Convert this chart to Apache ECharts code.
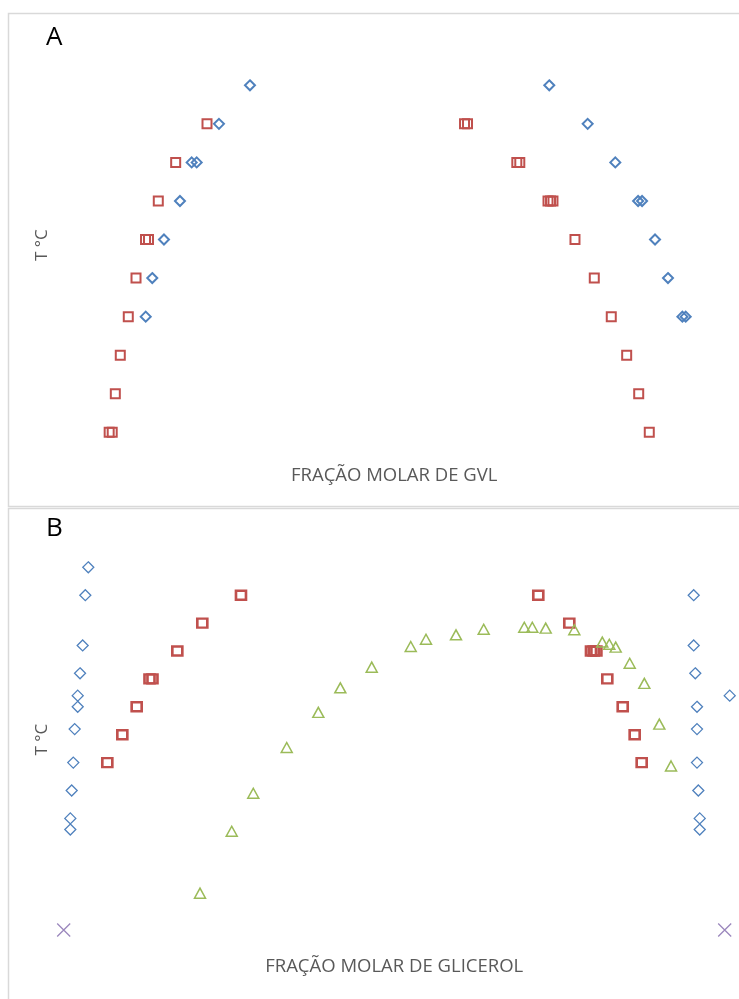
<!DOCTYPE html>
<html>
<head>
<meta charset="utf-8">
<script src="https://cdn.jsdelivr.net/npm/echarts@6/dist/echarts.min.js"></script>
<style>
  html, body { margin: 0; padding: 0; background: #ffffff; }
  #chart { width: 739px; height: 999px; }
</style>
</head>
<body>
<div id="chart"></div>
<script>
// Painel A: temperatura (°C) em função da fração molar de GVL
const gvlDiamantes = [
  [0.2818, 65], [0.2349, 60], [0.1936, 55], [0.2012, 55], [0.1759, 50],
  [0.1517, 45], [0.1340, 40], [0.1241, 35],
  [0.7346, 65], [0.7927, 60], [0.8345, 55], [0.8690, 50], [0.8750, 50],
  [0.8946, 45], [0.9142, 40], [0.9360, 35], [0.9410, 35]
];
const gvlQuadrados = [
  [0.2168, 60], [0.1694, 55], [0.1431, 50], [0.1238, 45], [0.1283, 45],
  [0.1094, 40], [0.0977, 35], [0.0856, 30], [0.0781, 25], [0.0688, 20], [0.0734, 20],
  [0.6064, 60], [0.6109, 60], [0.6855, 55], [0.6900, 55], [0.7327, 50],
  [0.7365, 50], [0.7402, 50], [0.7735, 45], [0.8027, 40], [0.8284, 35],
  [0.8517, 30], [0.8699, 25], [0.8859, 20]
];

// Painel B: temperatura (°C) em função da fração molar de glicerol
const gliDiamantes = [
  [0.0372, 65], [0.0327, 60], [0.0287, 51], [0.0247, 46], [0.0212, 42],
  [0.0212, 40], [0.0166, 36], [0.0145, 30], [0.0121, 25], [0.0100, 20], [0.0100, 18],
  [0.9531, 60], [0.9531, 51], [0.9555, 46], [1.0076, 42], [0.9581, 40],
  [0.9581, 36], [0.9581, 30], [0.9601, 25], [0.9622, 20], [0.9622, 18]
];
const gliQuadrados = [
  [0.2682, 60], [0.2097, 55], [0.1719, 50], [0.1298, 45], [0.1343, 45],
  [0.1104, 40], [0.0887, 35], [0.0660, 30],
  [0.7180, 60], [0.7649, 55], [0.7977, 50], [0.8018, 50], [0.8059, 50],
  [0.8224, 45], [0.8457, 40], [0.8638, 35], [0.8744, 30]
];
const gliTriangulos = [
  [0.2062, 6.6], [0.2542, 17.7], [0.2868, 24.5], [0.3374, 32.7], [0.3852, 39.0],
  [0.4185, 43.4], [0.4660, 47.1], [0.5250, 50.8], [0.5481, 52.1], [0.5935, 52.9],
  [0.6354, 53.9], [0.6968, 54.25], [0.7089, 54.25], [0.7292, 54.1], [0.7725, 53.8],
  [0.8148, 51.6], [0.8254, 51.2], [0.8351, 50.7], [0.8563, 47.8], [0.8784, 44.2],
  [0.9011, 36.9], [0.9188, 29.4]
];
const gliCruzes = [[0, 0], [1, 0]];

// Rótulos
const rotuloPainelA = 'A';
const rotuloPainelB = 'B';
const tituloXA = 'FRAÇÃO MOLAR DE GVL';
const tituloXB = 'FRAÇÃO MOLAR DE GLICEROL';
const tituloY = 'T °C';

const AZUL = '#4f81bd', VERMELHO = '#c0504d', VERDE = '#9bbb59', ROXO = '#9b87bd';
const CINZA_TEXTO = '#595959';
const FONTE = '"Open Sans", "Noto Sans", sans-serif';

const chart = echarts.init(document.getElementById('chart'), null, { renderer: 'canvas' });

function eixoX(grid, nome, gap) {
  return {
    gridIndex: grid, type: 'value', min: 0, max: 1,
    axisLine: { show: false }, axisTick: { show: false },
    axisLabel: { show: false }, splitLine: { show: false },
    name: nome, nameLocation: 'middle', nameGap: gap,
    nameTextStyle: { color: CINZA_TEXTO, fontSize: 18.5, fontFamily: FONTE }
  };
}
function eixoY(grid, min, max, gap, desloc) {
  return {
    gridIndex: grid, type: 'value', min: min, max: max,
    axisLine: { show: false }, axisTick: { show: false },
    axisLabel: { show: false }, splitLine: { show: false },
    name: tituloY, nameLocation: 'middle', nameGap: gap,
    nameTextStyle: { color: CINZA_TEXTO, fontSize: 17, fontFamily: FONTE, padding: [0, 0, 0, desloc] }
  };
}
function dispersao(nome, x, y, dados, simbolo, tam, cor, espessura) {
  return {
    name: nome, type: 'scatter', xAxisIndex: x, yAxisIndex: y, data: dados,
    symbol: simbolo, symbolSize: tam, clip: false, silent: true,
    itemStyle: { color: 'rgba(255,255,255,0)', borderColor: cor, borderWidth: espessura, opacity: 1 }
  };
}

chart.setOption({
  animation: false,
  backgroundColor: '#ffffff',
  title: [
    { text: rotuloPainelA, left: 41, top: 20, textStyle: { fontSize: 26, fontWeight: 'normal', color: '#000', fontFamily: FONTE } },
    { text: rotuloPainelB, left: 41, top: 511, textStyle: { fontSize: 26, fontWeight: 'normal', color: '#000', fontFamily: FONTE } }
  ],
  graphic: [
    { type: 'rect', shape: { x: 8.5, y: 13.5, width: 740, height: 493 }, style: { fill: 'none', stroke: '#d9d9d9', lineWidth: 1.5 }, silent: true },
    { type: 'rect', shape: { x: 8.5, y: 508.5, width: 740, height: 500 }, style: { fill: 'none', stroke: '#d9d9d9', lineWidth: 1.5 }, silent: true }
  ],
  grid: [
    { left: 63.7, right: 14.3, top: 46.75, height: 408.68 },
    { left: 63.7, right: 14.3, top: 539.4, height: 407.34 }
  ],
  xAxis: [eixoX(0, tituloXA, 11), eixoX(1, tituloXB, 10)],
  yAxis: [eixoY(0, 17, 70, 13, 12), eixoY(1, -3, 70, 13, 7)],
  series: [
    dispersao('GVL 1', 0, 0, gvlDiamantes, 'diamond', 10, AZUL, 2),
    dispersao('GVL 2', 0, 0, gvlQuadrados, 'rect', 9, VERMELHO, 2),
    dispersao('Glicerol 1', 1, 1, gliDiamantes, 'diamond', 11, AZUL, 1.3),
    dispersao('Glicerol 2', 1, 1, gliQuadrados, 'rect', [10, 9], VERMELHO, 2.5),
    dispersao('Glicerol 3', 1, 1, gliTriangulos, 'triangle', [11, 10], VERDE, 1.5),
    dispersao('Glicerol 4', 1, 1, gliCruzes, 'path://M0,0L10,10M10,0L0,10', 13, ROXO, 1.3)
  ]
});
</script>
</body>
</html>
